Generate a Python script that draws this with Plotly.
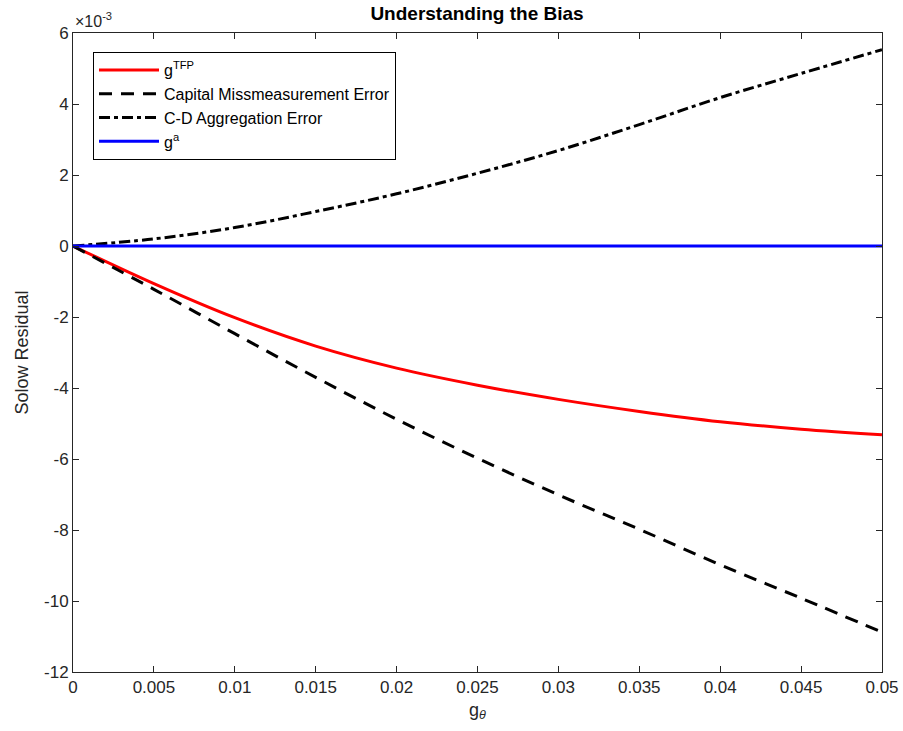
import plotly.graph_objects as go

# x values (g_theta)
x_vals = [0, 0.005, 0.01, 0.015, 0.02, 0.025, 0.03, 0.035, 0.04, 0.045, 0.05]
# series values in units of 1e-3
g_tfp = [0, -1.06, -2.02, -2.82, -3.44, -3.92, -4.32, -4.66, -4.95, -5.16, -5.32]
capital_err = [0, -1.22, -2.47, -3.70, -4.88, -5.98, -7.01, -7.98, -8.98, -9.92, -10.88]
cd_err = [0, 0.20, 0.52, 0.97, 1.47, 2.05, 2.69, 3.42, 4.18, 4.86, 5.53]
g_a = [0, 0, 0, 0, 0, 0, 0, 0, 0, 0, 0]

x_ticks = [0, 0.005, 0.01, 0.015, 0.02, 0.025, 0.03, 0.035, 0.04, 0.045, 0.05]
x_ticktext = ["0", "0.005", "0.01", "0.015", "0.02", "0.025", "0.03", "0.035", "0.04", "0.045", "0.05"]
y_ticks = [-12, -10, -8, -6, -4, -2, 0, 2, 4, 6]
y_ticktext = ["-12", "-10", "-8", "-6", "-4", "-2", "0", "2", "4", "6"]

FONT = "Liberation Sans, Arial, Helvetica, sans-serif"
AX = "#262626"
W, H = 903, 731
L, R, T, B = 73, 21, 33, 59

fig = go.Figure()
fig.add_trace(go.Scatter(x=x_vals, y=g_tfp, mode="lines", line_shape="spline",
                         name="g<sup>TFP</sup>", line=dict(color="#ff0000", width=3)))
fig.add_trace(go.Scatter(x=x_vals, y=capital_err, mode="lines", line_shape="spline",
                         name="Capital Missmeasurement Error",
                         line=dict(color="black", width=3, dash="13px,9px")))
fig.add_trace(go.Scatter(x=x_vals, y=cd_err, mode="lines", line_shape="spline",
                         name="C-D Aggregation Error",
                         line=dict(color="black", width=3, dash="11px,4px,4px,4px")))
fig.add_trace(go.Scatter(x=x_vals, y=g_a, mode="lines",
                         name="g<sup>a</sup>", line=dict(color="#0000ff", width=3)))

fig.update_layout(
    width=W, height=H,
    margin=dict(l=L, r=R, t=T, b=B, autoexpand=False),
    paper_bgcolor="white", plot_bgcolor="white",
    font=dict(family=FONT, size=17, color=AX),
    title=dict(text="<b>Understanding the Bias</b>", x=477 / W, xanchor="center",
               xref="container", yref="container", automargin=False,
               y=1 - 13 / H, yanchor="middle", font=dict(size=19, color="black")),
    showlegend=True,
    legend=dict(x=(93 - L) / (W - L - R), y=1 - (52 - T) / (H - T - B),
                xanchor="left", yanchor="top",
                bgcolor="white", bordercolor="black", borderwidth=1,
                font=dict(size=16, color="black"), tracegroupgap=0,
                itemwidth=60),
    xaxis=dict(range=[0, 0.05], tickvals=x_ticks, ticktext=x_ticktext, automargin=False,
               showgrid=False, zeroline=False, showline=True, linecolor=AX, linewidth=1,
               mirror="ticks", ticks="inside", ticklen=6, tickcolor=AX,
               tickfont=dict(size=17, color=AX),
               title=dict(text="g<sub><i>θ</i></sub>", font=dict(size=18, color=AX), standoff=6)),
    yaxis=dict(range=[-12, 6], tickvals=y_ticks, ticktext=y_ticktext, automargin=False,
               showgrid=False, zeroline=False, showline=True, linecolor=AX, linewidth=1,
               mirror="ticks", ticks="inside", ticklen=6, tickcolor=AX,
               tickfont=dict(size=17, color=AX),
               title=dict(text="Solow Residual", font=dict(size=18, color=AX), standoff=10)),
)

fig.add_annotation(text="×10<sup>-3</sup>", xref="paper", yref="paper", x=0.0, y=1.0,
                   xanchor="left", yanchor="bottom", showarrow=False,
                   font=dict(size=16, color=AX), yshift=1)

fig.write_html("out.html", config={"displayModeBar": False},
               post_script="document.body.style.margin='0';")
